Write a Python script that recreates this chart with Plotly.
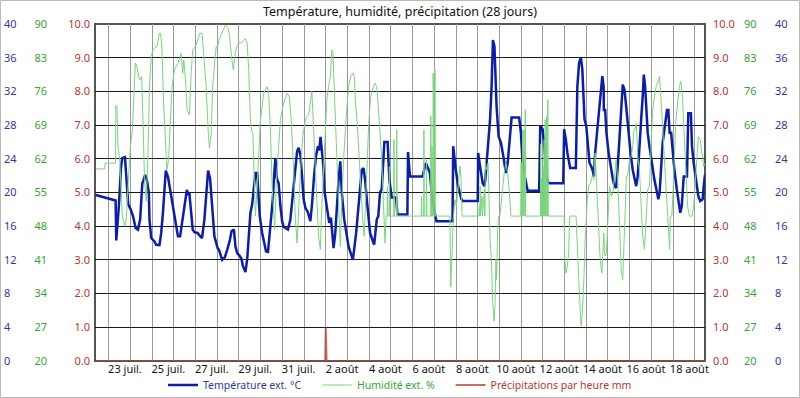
import plotly.graph_objects as go

# ---- data (time in days since 21 juil. 00:00) ----
temp_t = [0.40, 1.32, 1.35, 1.47, 1.57, 1.63, 1.75, 1.81, 1.90, 2.01, 2.12, 2.24, 2.35, 2.45, 2.55, 2.61, 2.68,
          2.76, 2.85, 2.88, 2.96, 3.11, 3.19, 3.34, 3.42, 3.50, 3.57, 3.63, 3.73, 3.83, 3.96, 4.08, 4.19, 4.29,
          4.38, 4.49, 4.60, 4.66, 4.72, 4.80, 4.87, 4.95, 5.10, 5.18, 5.30, 5.41, 5.49, 5.58, 5.67, 5.76, 5.87,
          6.02, 6.08, 6.23, 6.35, 6.46, 6.57, 6.66, 6.77, 6.84, 6.92, 7.03, 7.12, 7.18, 7.30, 7.38, 7.45, 7.53,
          7.61, 7.68, 7.76, 7.84, 7.88, 7.96, 8.07, 8.17, 8.25, 8.34, 8.42, 8.50, 8.56, 8.62, 8.68, 8.74, 8.83,
          8.91, 8.99, 9.06, 9.17, 9.26, 9.37, 9.48, 9.57, 9.68, 9.75, 9.83, 9.91, 9.98, 10.06, 10.17, 10.29,
          10.36, 10.46, 10.55, 10.64, 10.70, 10.76, 10.82, 10.89, 10.95, 11.05, 11.16, 11.24, 11.28, 11.36,
          11.44, 11.51, 11.59, 11.67, 11.74, 11.85, 12.05, 12.25, 12.40, 12.51, 12.66, 12.74, 12.81, 12.92,
          13.04, 13.23, 13.35, 13.42, 13.50, 13.58, 13.65, 13.70, 13.85, 13.93, 14.04, 14.24, 14.30, 14.76,
          14.79, 14.88, 15.46, 15.52, 15.61, 15.68, 15.80, 15.90, 16.03, 16.10, 16.84, 16.87, 16.99, 17.10,
          17.25, 17.31, 18.00, 18.02, 18.11, 18.23, 18.31, 18.35, 18.41, 18.47, 18.57, 18.64, 18.70, 18.77,
          18.81, 18.87, 18.96, 19.07, 19.18, 19.30, 19.38, 19.46, 19.50, 19.56, 19.91, 19.99, 20.06, 20.17,
          20.30, 20.83, 20.88, 20.99, 21.11, 21.17, 21.26, 21.94, 21.98, 22.06, 22.13, 22.26, 22.52, 22.56,
          22.59, 22.67, 22.75, 22.82, 22.90, 22.92, 23.00, 23.08, 23.15, 23.23, 23.31, 23.35, 23.41, 23.51,
          23.61, 23.69, 23.74, 23.80, 23.81, 23.87, 23.93, 24.03, 24.12, 24.23, 24.30, 24.38, 24.45, 24.53,
          24.61, 24.68, 24.76, 24.84, 24.91, 25.04, 25.14, 25.22, 25.30, 25.37, 25.45, 25.53, 25.60, 25.65,
          25.71, 25.77, 25.83, 25.91, 26.02, 26.14, 26.26, 26.32, 26.38, 26.45, 26.52, 26.60, 26.68, 26.72,
          26.78, 26.84, 26.91, 26.98, 27.06, 27.17, 27.26, 27.33, 27.40, 27.44, 27.49, 27.64, 27.70, 27.82,
          27.87, 27.95, 28.05, 28.16, 28.25, 28.36, 28.41, 28.47]
temp_v = [19.7, 19.05, 14.3, 18.4, 23.1, 24.1, 24.2, 21.9, 18.6, 18.0, 17.2, 15.8, 15.6, 16.8, 21.1, 21.5, 22.1,
          21.5, 20.0, 16.8, 14.6, 14.2, 13.8, 13.75, 15.2, 17.6, 20.75, 22.6, 21.9, 20.4, 18.4, 16.4, 14.8, 14.8,
          16.4, 18.4, 20.3, 19.8, 19.8, 17.6, 15.6, 15.3, 15.2, 14.9, 14.6, 16.8, 19.6, 22.6, 21.7, 18.4, 14.8,
          13.4, 13.2, 12.0, 12.3, 13.2, 14.2, 15.4, 15.6, 13.6, 12.8, 12.5, 12.1, 11.3, 10.55, 12.05, 14.4, 17.6,
          18.6, 20.2, 22.3, 22.3, 20.0, 17.2, 15.2, 14.0, 13.0, 12.95, 15.2, 17.2, 19.2, 21.9, 24.1, 21.7, 21.1,
          18.4, 16.6, 15.9, 15.7, 15.6, 16.8, 19.6, 22.3, 24.9, 25.3, 24.5, 21.9, 19.2, 18.2, 17.7, 16.6,
          18.4, 21.9, 24.3, 25.5, 25.0, 26.6, 25.1, 23.1, 20.0, 18.0, 16.4, 17.0, 15.6, 13.4,
          15.2, 18.4, 21.5, 23.7, 20.0, 16.8, 13.6, 12.0, 15.2, 18.4, 22.7, 22.9, 21.5, 18.4,
          15.2, 13.8, 16.8, 17.2, 20.0, 20.4, 23.5, 26.0, 26.0, 21.5, 19.4, 19.4, 17.4, 17.4,
          24.8, 21.9, 21.9, 22.7, 23.5, 23.1, 22.3, 19.2, 17.2, 16.6, 16.6, 25.5, 22.7, 20.75,
          19.2, 19.0, 19.0, 24.7, 23.1, 21.1, 20.75, 21.5, 23.5, 25.5, 28.7, 32.6, 38.1, 37.4,
          34.6, 30.2, 26.7, 25.9, 24.3, 22.3, 23.5, 26.3, 27.1, 28.9, 28.9, 27.1, 23.9, 21.9,
          20.2, 20.2, 27.9, 27.5, 24.3, 21.9, 21.1, 21.1, 27.5, 26.3, 24.7, 22.9, 22.9, 28.7,
          32.6, 35.4, 36.0, 34.6, 30.6, 28.7, 27.9, 25.5, 23.5, 23.1, 22.5, 21.9, 24.7, 27.5,
          30.6, 32.6, 33.8, 32.6, 29.8, 29.8, 27.1, 24.7, 23.1, 21.5, 20.75, 20.55, 23.1, 25.9,
          29.8, 32.8, 32.2, 30.2, 27.9, 24.7, 22.7, 21.5, 20.75, 21.9, 24.7, 28.7, 31.4, 34.0,
          32.6, 29.4, 27.1, 25.5, 23.5, 21.5, 20.0, 19.2, 20.0, 23.1, 25.9, 27.5, 29.4, 29.8,
          29.8, 27.1, 27.1, 24.7, 22.7, 20.4, 18.4, 17.6, 18.4, 20.75, 21.9, 21.9, 29.4, 29.4,
          25.5, 23.5, 21.5, 19.6, 19.0, 19.2, 20.75, 22.1]

hum_t = [0.40, 0.82, 0.83, 1.32, 1.33, 1.38, 1.43, 1.51, 1.58, 1.63, 1.74, 1.81, 1.89, 2.00, 2.09, 2.15, 2.23,
         2.30, 2.38, 2.45, 2.52, 2.58, 2.65, 2.73, 2.81, 2.88, 2.96, 3.04, 3.11, 3.22, 3.34, 3.39, 3.45, 3.53,
         3.62, 3.68, 3.76, 3.83, 3.92, 4.03, 4.19, 4.34, 4.41, 4.46, 4.54, 4.61, 4.72, 4.80, 4.87, 5.00, 5.21,
         5.30, 5.38, 5.49, 5.59, 5.64, 5.72, 5.79, 5.95, 6.02,
         6.08, 6.23, 6.38, 6.51, 6.57, 6.66, 6.74, 6.81, 6.89, 7.00, 7.12, 7.23, 7.30, 7.38, 7.45, 7.53, 7.58,
         7.64, 7.70, 7.76, 7.84, 7.91, 7.99, 8.07, 8.14, 8.22, 8.30, 8.37, 8.45, 8.53, 8.60, 8.65, 8.71, 8.80,
         8.91, 9.06, 9.22, 9.32, 9.41, 9.52, 9.60, 9.68, 9.75, 9.83, 9.94, 10.06, 10.13, 10.21, 10.36, 10.41,
         10.49, 10.56, 10.67, 10.75, 10.82, 10.93, 11.05, 11.13, 11.21, 11.28, 11.33, 11.41, 11.47, 11.56,
         11.62, 11.67,
         11.74, 11.82, 11.94, 12.05, 12.15, 12.25, 12.31, 12.37, 12.46, 12.55, 12.61, 12.70, 12.77, 12.81,
         12.89, 12.98, 13.07, 13.19, 13.27, 13.35, 13.42, 13.50, 13.58, 13.65, 13.73, 13.78,
         13.83, 13.84, 13.86, 13.92, 13.93, 13.95, 14.13, 14.14, 14.16, 14.26, 14.27, 14.29, 15.40, 15.41,
         15.43, 15.51, 15.52, 15.54, 15.63, 15.64, 15.66, 15.83, 15.84, 15.86, 15.88, 15.89, 15.91, 15.94,
         15.95, 15.97, 16.02, 16.03, 16.05, 16.72, 16.76, 16.82, 16.87, 16.95, 17.02, 17.10, 17.18, 17.22,
         17.28, 18.05, 18.08, 18.10, 18.11, 18.13, 18.20, 18.22, 18.31, 18.33, 18.35, 18.41, 18.48, 18.53,
         18.57, 18.63, 18.69, 18.75, 18.80, 18.84, 18.87, 18.92, 18.96, 19.02, 19.11, 19.22, 19.30, 19.38,
         19.46, 19.53, 19.98, 20.00, 20.02, 20.06, 20.07, 20.09, 20.12, 20.13, 20.15, 20.18, 20.19, 20.21,
         20.89, 20.90, 20.92, 20.94, 20.95, 20.97, 21.01, 21.02, 21.04, 21.05, 21.06, 21.08, 21.10, 21.11,
         21.13, 21.16, 21.17, 21.19, 21.22, 21.23, 21.25, 21.98, 22.01, 22.07, 22.13, 22.19, 22.24, 22.53,
         22.59, 22.67, 22.76, 22.82, 22.89,
         22.95, 23.05, 23.11, 23.20, 23.28, 23.35, 23.41, 23.46, 23.51, 23.57, 23.64, 23.72, 23.78, 23.81,
         23.84, 23.87, 23.93, 24.00, 24.07, 24.15, 24.23, 24.30, 24.38, 24.45, 24.53, 24.61, 24.68, 24.73,
         24.79, 24.85, 24.91, 24.99, 25.07, 25.14, 25.19, 25.25, 25.31, 25.37, 25.45, 25.53, 25.60, 25.68,
         25.76, 25.83, 25.91, 25.99, 26.06, 26.14, 26.22, 26.29, 26.37, 26.41, 26.48, 26.57, 26.63, 26.69,
         26.75, 26.80, 26.84, 26.87, 26.94, 26.98, 27.06, 27.13, 27.21, 27.29, 27.36, 27.44, 27.52, 27.59,
         27.67, 27.75, 27.87, 27.95, 28.01, 28.10, 28.16, 28.25, 28.33, 28.41, 28.47]
hum_v = [59.9, 59.9, 61.1, 61.1, 73.0, 73.0, 64.6, 61.8, 54.9, 50.1, 48.0, 49.4, 56.3, 64.6, 68.0, 73.6, 81.9,
         81.2, 79.1, 78.4, 79.1, 70.1, 57.7, 53.2, 63.2, 77.0, 83.2, 84.6, 85.0, 85.3, 88.1, 88.1, 85.3, 73.6,
         63.2, 59.7, 61.8, 70.1, 77.0, 80.5, 81.9, 83.9, 79.8, 82.5, 78.4, 72.2, 71.1, 79.8, 84.6, 85.3, 88.1,
         88.1, 83.9, 77.0, 67.3, 64.2, 67.0, 77.0, 85.3, 85.3,
         86.7, 88.1, 89.8, 89.1, 87.4, 83.2, 80.5, 83.2, 85.3, 86.0, 86.1, 86.7, 87.0, 86.0, 80.5, 70.1, 68.0,
         67.3, 56.3, 50.1, 56.3, 63.2, 70.1, 72.9, 75.6, 76.3, 77.0, 75.6, 68.0, 56.3, 49.4, 47.3, 56.3, 63.2,
         70.1, 73.6, 75.6, 74.9, 70.1, 59.7, 49.4, 44.5, 52.1, 59.0, 66.6, 70.1, 70.8, 71.1, 76.0, 70.1,
         63.2, 56.3, 45.9, 43.2, 52.1, 64.6, 74.3, 77.0, 79.1, 84.6, 83.9, 74.3, 65.3, 56.3,
         49.4, 43.8,
         52.8, 61.8, 70.8, 77.0, 79.1, 79.8, 79.1, 73.6, 68.7, 61.8, 54.9, 49.4, 45.9, 50.8,
         59.7, 69.4, 74.9, 77.0, 77.7, 77.0, 72.9, 68.0, 61.8, 53.5, 44.5, 50.1,
         50.1, 56.3, 50.1, 50.1, 60.4, 50.1, 50.1, 66.0, 50.1, 50.1, 68.0, 50.1, 50.1, 54.2,
         50.1, 50.1, 68.0, 50.1, 50.1, 61.8, 50.1, 50.1, 70.8, 50.1, 50.1, 64.6, 50.1, 50.1,
         79.8, 50.1, 50.1, 80.5, 50.1, 50.1, 35.4, 42.5, 49.4, 53.5, 52.1, 56.3, 60.5, 59.0,
         50.1, 50.1, 52.1, 50.1, 56.3, 50.1, 54.2, 50.1, 55.6, 50.1, 61.1, 59.7, 61.1, 50.1,
         45.2, 41.1, 32.1, 28.3, 32.1, 41.1, 36.9, 47.3, 50.1, 50.1, 54.9, 59.0, 61.1, 59.0,
         54.9, 50.1, 50.1, 61.1, 50.1, 50.1, 68.0, 50.1, 50.1, 68.0, 50.1, 50.1, 72.2, 50.1,
         50.1, 65.0, 50.1, 50.1, 58.0, 50.1, 50.1, 60.4, 50.1, 50.1, 66.0, 50.1, 50.1, 70.1,
         50.1, 50.1, 70.8, 50.1, 50.1, 74.3, 50.1, 50.1, 41.1, 38.3, 39.7, 42.5, 50.1, 50.1,
         42.5, 35.4, 27.3, 30.0, 36.9,
         45.2, 53.5, 56.3, 57.0, 58.4, 57.7, 63.2, 58.4, 52.8, 45.9, 41.1, 38.3, 42.5, 46.6,
         42.5, 41.8, 42.5, 49.4, 56.3, 54.2, 54.9, 58.4, 61.8, 57.7, 45.9, 39.0, 36.9, 42.5,
         52.8, 58.4, 58.4, 61.8, 62.5, 64.6, 68.0, 68.0, 69.4, 62.5, 59.7, 52.8, 45.9, 43.2,
         50.8, 55.6, 56.3, 66.6, 72.2, 74.9, 77.0, 77.7, 79.1, 77.0, 71.5, 63.2, 58.4, 54.9,
         48.0, 45.9, 43.2, 50.1, 50.1, 53.5, 63.2, 70.1, 73.6, 77.0, 78.1, 74.3, 66.0, 57.7,
         52.1, 50.1, 50.1, 52.1, 56.3, 61.8, 66.6, 66.0, 63.2, 60.4, 61.1]

rain_t = [0.40, 10.98, 11.00, 11.04, 28.47]
rain_v = [0.0, 0.0, 1.0, 0.0, 0.0]

tick_days = [2, 4, 6, 8, 10, 12, 14, 16, 18, 20, 22, 24, 26, 28]
tick_labels = ["23 juil.", "25 juil.", "27 juil.", "29 juil.", "31 juil.", "2 août", "4 août",
               "6 août", "8 août", "10 août", "12 août", "14 août", "16 août", "18 août"]
grid_days = list(range(1, 29))

temp_ticks = [0, 4, 8, 12, 16, 20, 24, 28, 32, 36, 40]
hum_ticks = [20, 27, 34, 41, 48, 55, 62, 69, 76, 83, 90]
rain_ticks = [0, 1, 2, 3, 4, 5, 6, 7, 8, 9, 10]

series_names = ["Température ext. °C", "Humidité ext. %", "Précipitations par heure mm"]

# ---- styling ----
W, H = 800, 398
PL, PR, PT, PB = 95, 705, 24, 361
BLUE, GREEN, RED = "#0b1eab", "#7ad67a", "rgba(185,60,40,0.75)"
BLUE_T, GREEN_T, RED_T = "#2a3aa8", "#32a832", "#b8382a"
FONT = "Noto Sans"
PAD = "\u00a0" * 4

fig = go.Figure()
fig.add_trace(go.Scatter(x=temp_t, y=temp_v, mode="lines", yaxis="y", line=dict(color=BLUE, width=2.5),
                         name=f"<span style='color:{BLUE_T}'>{series_names[0]}</span>{PAD}"))
fig.add_trace(go.Scatter(x=hum_t, y=hum_v, mode="lines", yaxis="y2", line=dict(color=GREEN, width=1),
                         name=f"<span style='color:{GREEN_T}'>{series_names[1]}</span>{PAD}"))
fig.add_trace(go.Scatter(x=rain_t, y=rain_v, mode="lines", yaxis="y3", line=dict(color=RED, width=2),
                         cliponaxis=False,
                         name=f"<span style='color:{RED_T}'>{series_names[2]}</span>"))
for ax in ["y4", "y5", "y6"]:
    fig.add_trace(go.Scatter(x=[None], y=[None], yaxis=ax, showlegend=False, hoverinfo="skip"))

def yax(rng, vals, fmt, color, side, pos, grid=False, overlay=True):
    d = dict(range=rng, tickvals=vals, ticktext=[fmt.format(v) for v in vals], side=side,
             anchor="free", position=pos, showgrid=grid, zeroline=False, showline=False, ticks="",
             tickfont=dict(color=color, size=11, family=FONT), fixedrange=True)
    if grid:
        d.update(gridcolor="#1a1a1a", gridwidth=1)
    if overlay:
        d["overlaying"] = "y"
    return d

fig.update_layout(
    width=W, height=H,
    margin=dict(l=0, r=0, t=PT, b=H - PB, autoexpand=False),
    paper_bgcolor="white", plot_bgcolor="white",
    font=dict(family=FONT, size=11, color="#111"),
    title=dict(text="Température, humidité, précipitation (28 jours)", x=0.5, xanchor="center",
               y=1 - 12 / H, yref="container", yanchor="middle", font=dict(size=12.5, color="#111")),
    xaxis=dict(domain=[PL / W, PR / W], range=[0.37, 28.47], tickvals=[d - 0.25 for d in tick_days],
               ticktext=tick_labels, showgrid=False, zeroline=False, showline=False, ticks="",
               tickfont=dict(size=11, color="#111"), fixedrange=True,
               minor=dict(tickvals=grid_days, showgrid=True, gridcolor="#9a9a9a", gridwidth=1, ticks="")),
    yaxis=yax([0, 40], temp_ticks, "{}", BLUE_T, "right", 3 / W, grid=True, overlay=False),
    yaxis2=yax([20, 90], hum_ticks, "{}", GREEN_T, "left", 47 / W),
    yaxis3=yax([0, 10], rain_ticks, "{:.1f}", RED_T, "left", 90 / W),
    yaxis4=yax([0, 10], rain_ticks, "{:.1f}", RED_T, "right", 712 / W),
    yaxis5=yax([20, 90], hum_ticks, "{}", GREEN_T, "right", 743 / W),
    yaxis6=yax([0, 40], temp_ticks, "{}", BLUE_T, "right", 774 / W),
    legend=dict(orientation="h", x=0.5, xanchor="center", y=-24 / (PB - PT), yanchor="middle",
                font=dict(size=10.5), bgcolor="rgba(0,0,0,0)"),
    showlegend=True,
    shapes=[
        dict(type="rect", xref="paper", yref="paper", x0=PL / W, x1=PR / W, y0=0, y1=1,
             line=dict(color="#555555", width=2), layer="below"),
        dict(type="rect", xref="paper", yref="paper", x0=0.5 / W, x1=(W - 0.5) / W,
             y0=-(H - PB - 0.5) / (PB - PT), y1=(PB - 0.5) / (PB - PT),
             line=dict(color="#bbbbbb", width=1), layer="above"),
    ],
)

fig.write_html("out.html", config={"displayModeBar": False},
               post_script="document.body.style.margin='0';")
